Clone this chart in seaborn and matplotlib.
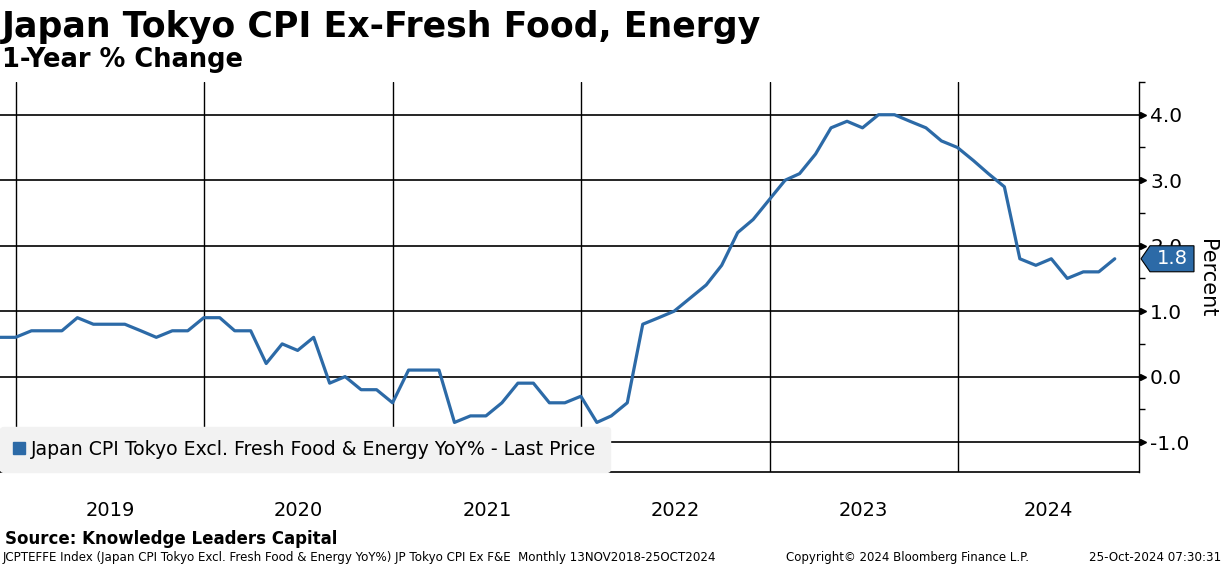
import numpy as np
import pandas as pd
import seaborn as sns
import matplotlib
matplotlib.use("Agg")
import matplotlib.pyplot as plt
import matplotlib.dates as mdates
import matplotlib.transforms as mtransforms
from matplotlib.patches import Polygon
from matplotlib.lines import Line2D

# Tokyo CPI ex fresh food & energy, YoY %, monthly Nov 2018 - Oct 2024
yoy_2018 = [0.6, 0.6]
yoy_2019 = [0.7, 0.7, 0.7, 0.9, 0.8, 0.8, 0.8, 0.7, 0.6, 0.7, 0.7, 0.9]
yoy_2020 = [0.9, 0.7, 0.7, 0.2, 0.5, 0.4, 0.6, -0.1, 0.0, -0.2, -0.2, -0.4]
yoy_2021 = [0.1, 0.1, 0.1, -0.7, -0.6, -0.6, -0.4, -0.1, -0.1, -0.4, -0.4, -0.3]
yoy_2022 = [-0.7, -0.6, -0.4, 0.8, 0.9, 1.0, 1.2, 1.4, 1.7, 2.2, 2.4, 2.7]
yoy_2023 = [3.0, 3.1, 3.4, 3.8, 3.9, 3.8, 4.0, 4.0, 3.9, 3.8, 3.6, 3.5]
yoy_2024 = [3.3, 3.1, 2.9, 1.8, 1.7, 1.8, 1.5, 1.6, 1.6, 1.8]

values = yoy_2018 + yoy_2019 + yoy_2020 + yoy_2021 + yoy_2022 + yoy_2023 + yoy_2024
dates = pd.date_range("2018-11-01", periods=len(values), freq="MS") + pd.offsets.MonthEnd(0)
df = pd.DataFrame({"date": dates, "yoy": values})

years = [2019, 2020, 2021, 2022, 2023, 2024]
yticks = [-1.0, 0.0, 1.0, 2.0, 3.0, 4.0]
series_label = "Japan CPI Tokyo Excl. Fresh Food & Energy YoY% - Last Price"
line_color = "#2c6aa7"

sns.set_style("white")
plt.rcParams["font.family"] = ["DejaVu Sans"]
plt.rcParams["text.color"] = "black"
plt.rcParams["xtick.color"] = "black"
plt.rcParams["ytick.color"] = "black"
plt.rcParams["axes.labelcolor"] = "black"

W, H = 1224, 566
fig = plt.figure(figsize=(W / 100, H / 100), dpi=100)
ax = fig.add_axes([0, (H - 472) / H, 1139 / W, (472 - 82) / H])

sns.lineplot(data=df, x="date", y="yoy", ax=ax, color=line_color, lw=2.3)

ax.set_xlim(pd.Timestamp("2018-12-01"), pd.Timestamp("2024-12-17"))
ax.set_ylim(-1.457, 4.5)
ax.set_xlabel("")
ax.set_ylabel("")

# spines
for s in ["top", "left"]:
    ax.spines[s].set_visible(False)
ax.spines["bottom"].set_color("black")
ax.spines["bottom"].set_linewidth(1.2)
ax.spines["right"].set_color("black")
ax.spines["right"].set_linewidth(1.0)

# y axis on the right
ax.yaxis.tick_right()
ax.set_yticks(yticks)
ax.set_yticklabels([f"{v:.1f}" for v in yticks])
ax.set_yticks(np.arange(-0.5, 4.6, 1.0), minor=True)
ax.tick_params(axis="y", which="major", length=0, pad=8, labelsize=14.5, labelcolor="black")
ax.tick_params(axis="y", which="minor", length=4, width=1, color="black", direction="out")
ax.plot([1 + 3.5 / 1139] * len(yticks), yticks, marker=">", ms=5, color="black", ls="none",
        transform=ax.get_yaxis_transform(), clip_on=False)

# x axis: year separators + quarter ticks
ax.xaxis.set_major_locator(mdates.YearLocator())
ax.xaxis.set_minor_locator(mdates.MonthLocator(bymonth=[4, 7, 10]))
ax.tick_params(axis="x", which="major", length=37, width=1.2, color="#808080", labelbottom=False)
ax.tick_params(axis="x", which="minor", length=3, width=1, color="black")
ax.grid(axis="x", which="major", color="black", lw=1.0)
ax.grid(axis="y", which="major", color="black", lw=1.2)

x0, x1 = ax.get_xlim()
for yr in years:
    a = max(mdates.date2num(pd.Timestamp(f"{yr}-01-01")), x0)
    b = min(mdates.date2num(pd.Timestamp(f"{yr + 1}-01-01")), x1)
    ax.text((a + b) / 2, -0.1, str(yr), transform=ax.get_xaxis_transform(),
            ha="center", va="center", fontsize=14, color="black")

# legend
handle = Line2D([], [], marker="s", ls="none", color=line_color, ms=8)
leg = ax.legend([handle], [series_label], loc="lower left", bbox_to_anchor=(0, 0),
                borderaxespad=0, frameon=True, facecolor="#f2f2f2", edgecolor="#f2f2f2",
                framealpha=1, fancybox=True, fontsize=13.6, handlelength=0.6,
                handletextpad=0.35, borderpad=0.7, labelcolor="black")

# last price tag
last = values[-1]
y_disp = ax.transData.transform((mdates.date2num(dates[-1]), last))[1]
x_sp = ax.transAxes.transform((1, 0))[0]
verts = [(x_sp + 2, y_disp), (x_sp + 11, y_disp + 13), (x_sp + 55, y_disp + 13),
         (x_sp + 55, y_disp - 13), (x_sp + 11, y_disp - 13)]
tag = Polygon(verts, closed=True, fc=line_color, ec="black", lw=0.8,
              transform=mtransforms.IdentityTransform())
fig.add_artist(tag)
fig.text(x_sp + 33, y_disp, f"{last:.1f}", color="white", fontsize=14, ha="center", va="center",
         transform=mtransforms.IdentityTransform())

fig.text(1207 / W, 1 - 278 / H, "Percent", rotation=270, ha="center", va="center", fontsize=15)

# titles and footer
fig.text(2 / W, 1 - 37 / H, "Japan Tokyo CPI Ex-Fresh Food, Energy", fontsize=25,
         fontweight="bold", va="baseline")
fig.text(2 / W, 1 - 67 / H, "1-Year % Change", fontsize=18.5, fontweight="bold", va="baseline")
fig.text(5 / W, 1 - 544 / H, "Source: Knowledge Leaders Capital", fontsize=12,
         fontweight="bold", va="baseline")
fig.text(3 / W, 1 - 561 / H,
         "JCPTEFFE Index (Japan CPI Tokyo Excl. Fresh Food & Energy YoY%) JP Tokyo CPI Ex F&E  Monthly 13NOV2018-25OCT2024",
         fontsize=8.6, va="baseline")
fig.text(786 / W, 1 - 561 / H, "Copyright\u00a9 2024 Bloomberg Finance L.P.", fontsize=8.5, va="baseline")
fig.text(1221 / W, 1 - 561 / H, "25-Oct-2024 07:30:31", fontsize=8.6, va="baseline", ha="right")

fig.savefig("out.png", dpi=100)
